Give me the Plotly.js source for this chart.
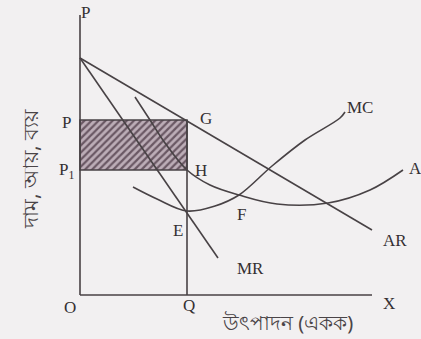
<!DOCTYPE html>
<html>
<head>
<meta charset="utf-8">
<script src="https://cdn.plot.ly/plotly-3.0.1.min.js"></script>
<style>
  html, body { margin: 0; padding: 0; background: #f2f0f1; }
  #chart { width: 421px; height: 339px; }
</style>
</head>
<body>
<div id="chart"></div>
<script>
// output on x, price / revenue / cost on y (arbitrary units, O at 0,0)
const arX = [0, 292];
const arY = [237, 65];
const mrX = [0, 138];
const mrY = [237, 37];
const mcX = [53, 77, 107, 135, 159, 192, 225, 260, 265];
const mcY = [108, 96, 84, 89, 100, 129, 155, 177, 183];
const acX = [55, 70, 85, 107, 130, 159, 197, 248, 290, 323];
const acY = [198, 175, 152, 125, 110, 100, 91, 92, 105, 125];

const qOut = 107;    // Q
const priceP = 175;  // P (on AR at Q)
const costP1 = 125;  // P1 (on AC at Q)

const LINE = '#484245';
const LABEL_FONT = { family: 'Liberation Serif, DejaVu Serif, serif', size: 17, color: '#342f32' };
const BN_FONT = 'Noto Sans, sans-serif';

function line(x, y, shape) {
  return {
    x, y,
    type: 'scatter',
    mode: 'lines',
    line: { color: LINE, width: 1.6, shape: shape || 'linear' },
    hoverinfo: 'skip',
  };
}

const traces = [
  {
    // shaded profit area P-G-H-P1
    x: [qOut / 2],
    y: [priceP - costP1],
    base: [costP1],
    width: [qOut],
    type: 'bar',
    marker: {
      color: '#b7a6b1',
      line: { color: LINE, width: 1.6 },
      pattern: { shape: '/', fgcolor: '#6a5864', bgcolor: '#bcadb7', size: 5, solidity: 0.45 },
    },
    hoverinfo: 'skip',
  },
  line([0, 0], [280, 0]),
  line([0, 292], [0, 0]),
  line([qOut, qOut], [priceP, 0]),
  line(arX, arY),
  line(mrX, mrY),
  line(mcX, mcY, 'spline'),
  line(acX, acY, 'spline'),
];

function label(text, x, y, extra) {
  return Object.assign({ text, x, y, showarrow: false, font: LABEL_FONT }, extra || {});
}

const annotations = [
  label('P', 5, 283),
  label('P', -14, 173),
  label('P<sub>1</sub>', -14, 124),
  label('G', 126, 177),
  label('H', 121, 125),
  label('E', 98, 65),
  label('F', 161, 81),
  label('MC', 280, 188),
  label('AC', 327, 127, { xanchor: 'left' }),
  label('AR', 315, 55),
  label('MR', 170, 27),
  label('O', -10, -12),
  label('Q', 109, -10),
  label('X', 309, -8),
  label('উৎপাদন (একক)', 207, -27, { font: { family: BN_FONT, size: 20, color: '#4a4447' } }),
  label('দাম, আয়, ব্যয়', -50, 126, { textangle: -90, font: { family: BN_FONT, size: 21, color: '#4a4447' } }),
];

const layout = {
  width: 421,
  height: 339,
  margin: { l: 0, r: 0, t: 0, b: 0 },
  paper_bgcolor: '#f2f0f1',
  plot_bgcolor: '#f2f0f1',
  showlegend: false,
  bargap: 0,
  xaxis: { range: [-80, 341], visible: false, fixedrange: true },
  yaxis: { range: [-44, 295], visible: false, fixedrange: true },
  annotations,
};

Plotly.newPlot('chart', traces, layout, { displayModeBar: false, staticPlot: true });
</script>
</body>
</html>
